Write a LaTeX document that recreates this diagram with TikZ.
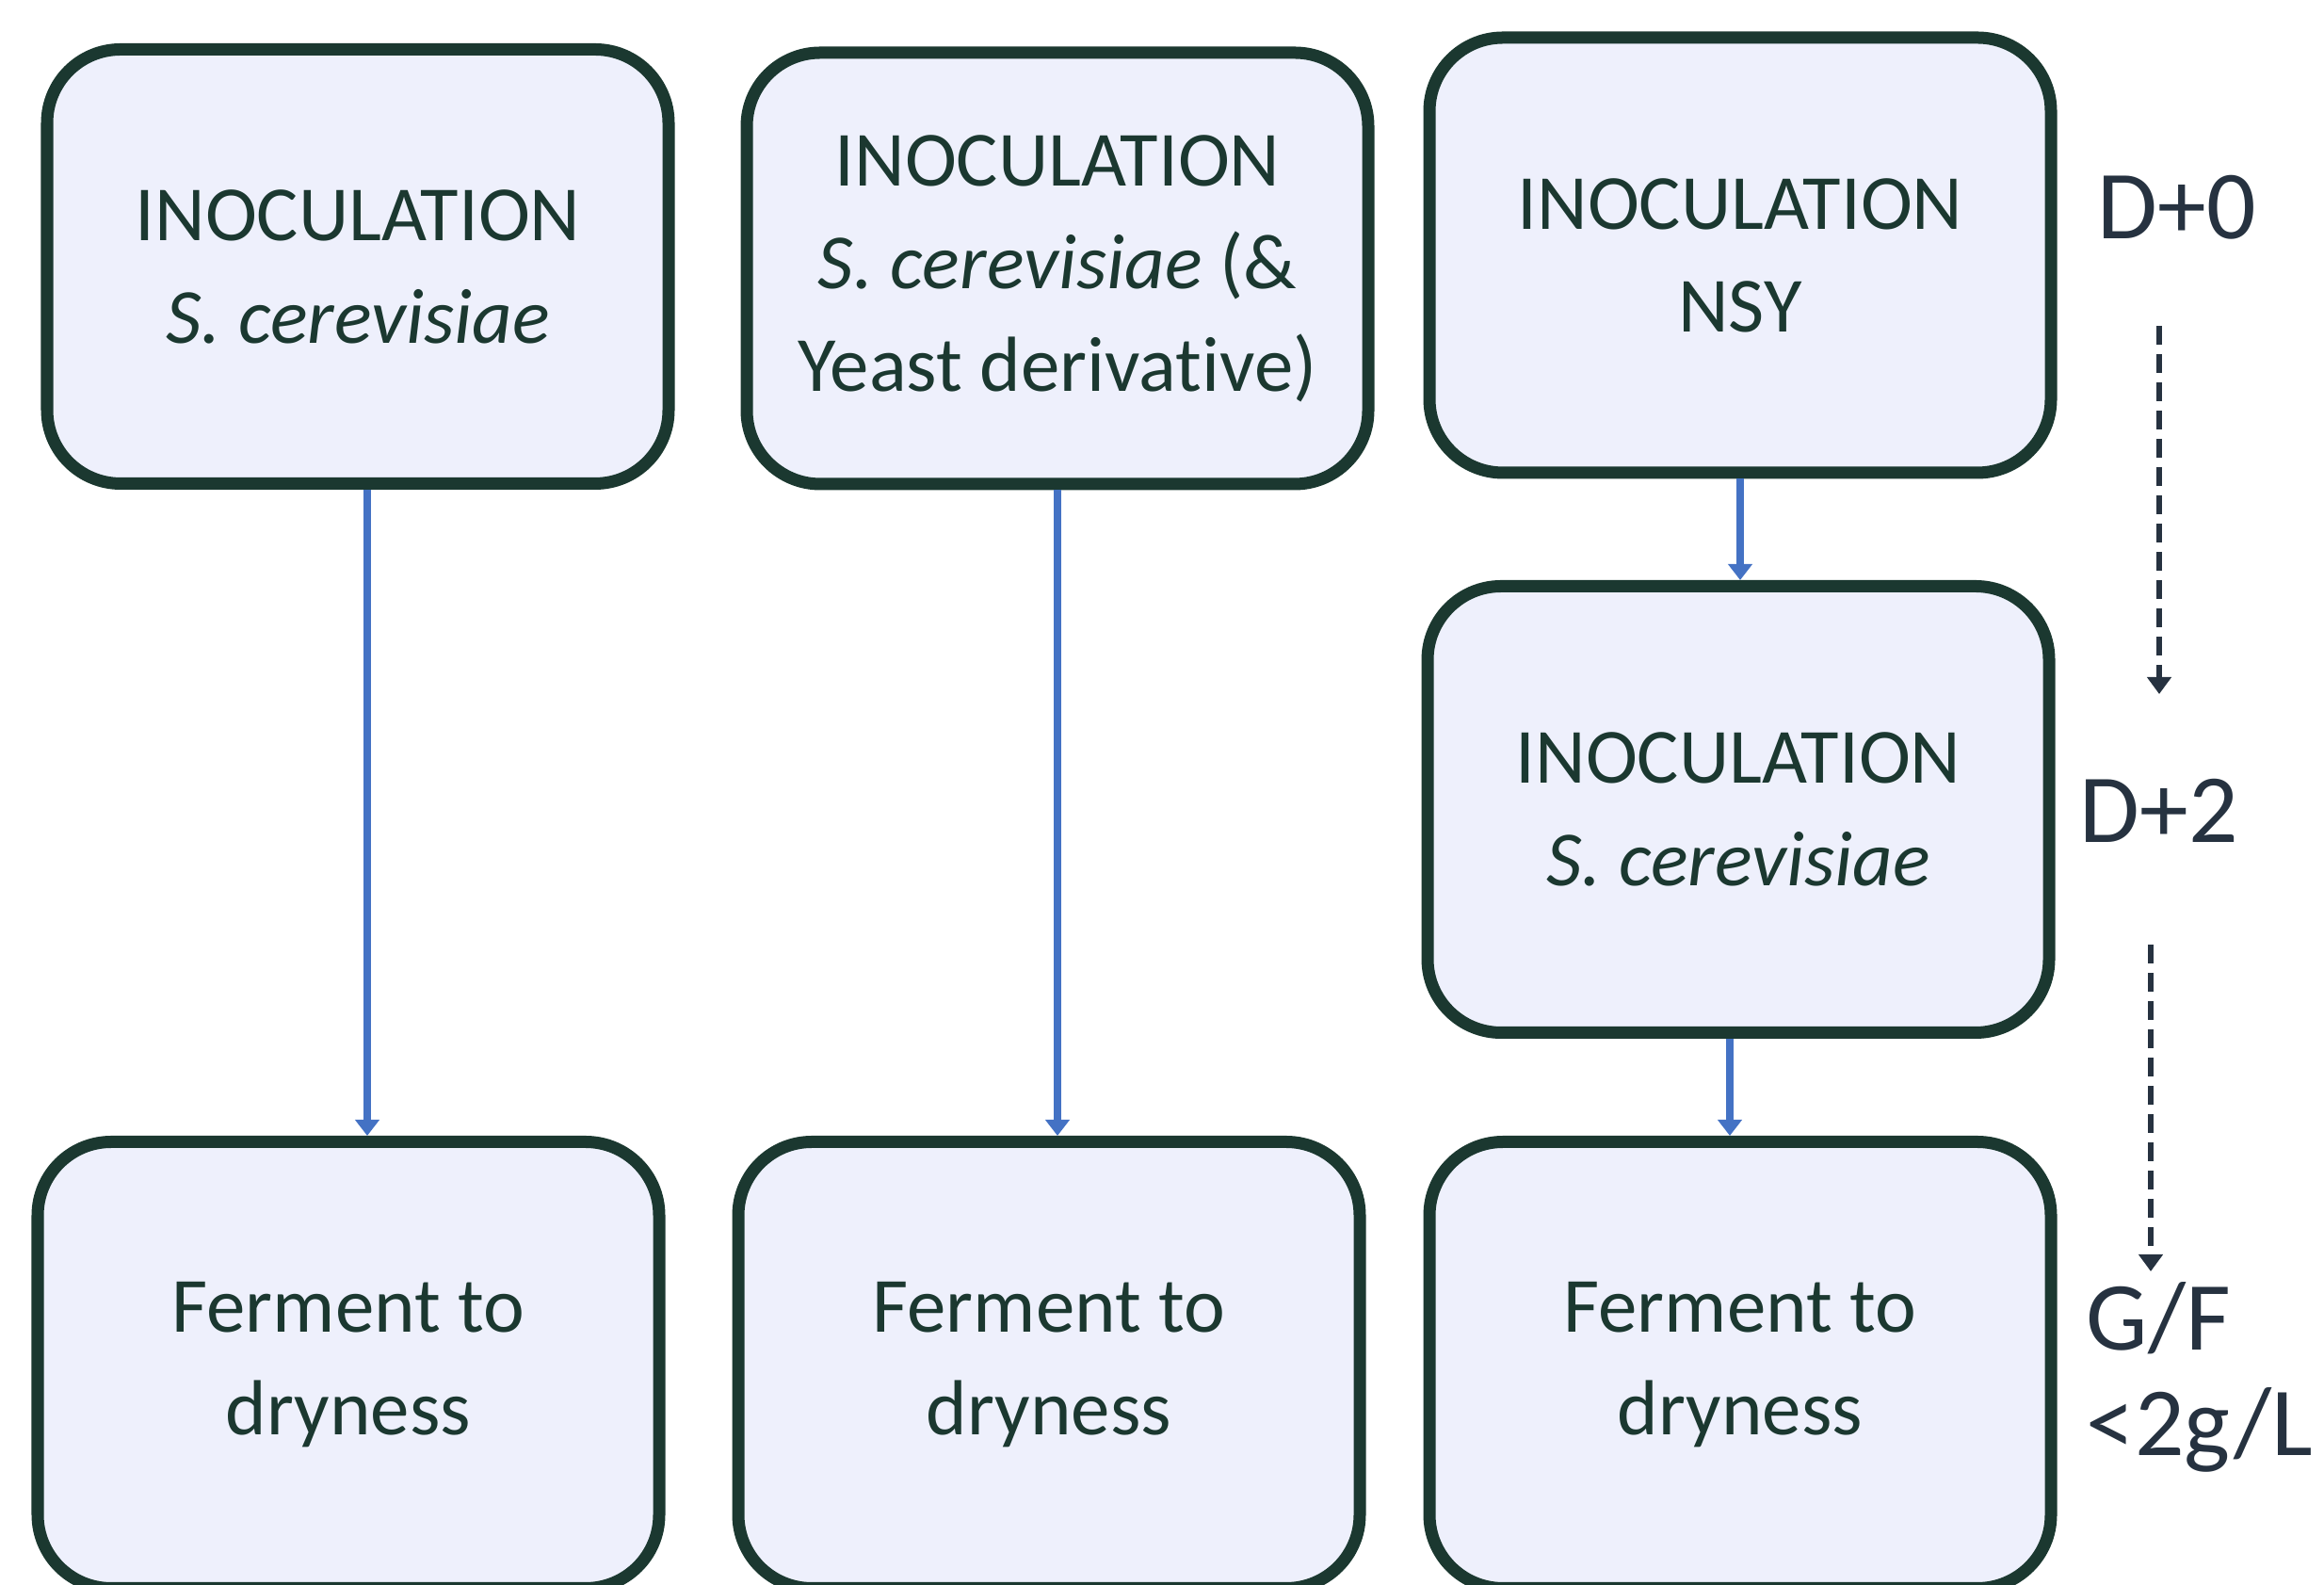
\documentclass[tikz,border=0pt]{standalone}
\usepackage{fontspec}
\setmainfont{Carlito}[Ligatures=NoCommon]
\usetikzlibrary{positioning, calc, arrows.meta}
\definecolor{boxline}{HTML}{1B3830}
\definecolor{boxfill}{HTML}{EEF0FC}
\definecolor{flowblue}{HTML}{4472C4}
\definecolor{daytext}{HTML}{263240}
\tikzset{
    stage/.style={draw=boxline, fill=boxfill, line width=3.7pt, rounded corners=0.78cm,
        minimum width=6.6cm, text=boxline, align=center, font=\fontsize{23.6}{31}\selectfont},
    flow/.style={draw=flowblue, line width=2.1pt, -{Triangle[width=0.25cm,length=0.17cm]}},
    timeline/.style={draw=daytext, line width=1.5pt, dash pattern=on 0.2cm off 0.1cm,
        -{Triangle[width=0.25cm,length=0.18cm]}},
    daylabel/.style={text=daytext, font=\fontsize{29.5}{32}\selectfont, inner sep=0pt, align=left}
}
\begin{document}
\begin{tikzpicture}
        \useasboundingbox (0,0) rectangle (24.68,16.83);
        % inoculazioni
            \node[stage, minimum height=4.61cm] (b1) at (3.80,14.00) {INOCULATION\\\textit{S. cerevisiae}};
            \node[stage, minimum height=4.58cm] (b2) at (11.23,13.98) {INOCULATION\\\textit{S. cerevisiae} (\&\\Yeast derivative)};
            \node[stage, minimum height=4.62cm] (b3) at (18.48,14.12) {INOCULATION\\NSY};
            \node[stage, minimum height=4.74cm] (b4) at (18.46,8.235) {INOCULATION\\\textit{S. cerevisiae}};
        % fermentazione
            \node[stage, minimum height=4.74cm] (b5) at (3.70,2.335) {Ferment to\\dryness};
            \node[stage, minimum height=4.74cm] (b6) at (11.14,2.335) {Ferment to\\dryness};
            \node[stage, minimum height=4.74cm] (b7) at (18.48,2.335) {Ferment to\\dryness};
        % frecce
            \draw[flow] ([xshift=1mm]b1.south) -- ([xshift=1mm]b1.south |- b5.north);
            \draw[flow] (b2.south) -- (b2.south |- b6.north);
            \draw[flow] (b3.south) -- (b3.south |- b4.north);
            \draw[flow] ([xshift=-0.9mm]b4.south) -- ([xshift=-0.9mm]b4.south |- b7.north);
        % tempi
            \node[daylabel, anchor=west] (d0) at (22.27,14.63) {D+0};
            \node[daylabel, anchor=west] (d2) at (22.08,8.22) {D+2};
            \node[daylabel, anchor=west] (gf) at (22.15,2.205) {G/F\\<2g/L};
            \coordinate (t0) at (22.93,13.37);
            \coordinate (t1) at (22.93,9.46);
            \coordinate (t2) at (22.84,6.80);
            \coordinate (t3) at (22.84,3.33);
            \draw[timeline] (t0) -- (t1);
            \draw[timeline] (t2) -- (t3);
\end{tikzpicture}
\end{document}
